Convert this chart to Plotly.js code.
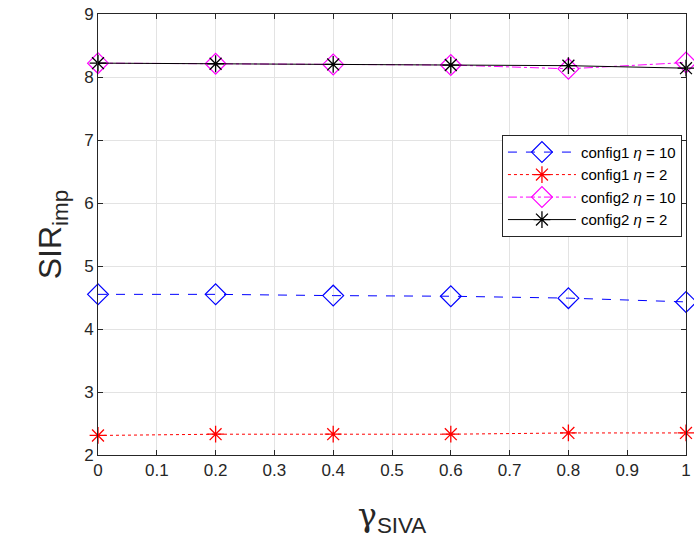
<!DOCTYPE html>
<html><head><meta charset="utf-8">
<script src="https://cdn.plot.ly/plotly-3.0.1.min.js"></script>
<style>html,body{margin:0;padding:0;background:#fff;}#chart{width:694px;height:542px;}</style>
</head><body><div id="chart"></div>
<script>
const gamma = [0, 0.2, 0.4, 0.6, 0.8, 1.0];
const config1Eta10 = [4.55, 4.55, 4.53, 4.52, 4.49, 4.43];
const config1Eta2 = [2.31, 2.33, 2.33, 2.33, 2.35, 2.35];
const config2Eta10 = [8.22, 8.21, 8.20, 8.19, 8.13, 8.23];
const config2Eta2 = [8.22, 8.21, 8.20, 8.19, 8.18, 8.14];
const seriesNames = ['config1 <i>η</i> = 10', 'config1 <i>η</i> = 2', 'config2 <i>η</i> = 10', 'config2 <i>η</i> = 2'];

const traces = [
  {x: gamma, y: config1Eta10, name: seriesNames[0], mode: 'lines+markers', cliponaxis: false,
   line: {color: '#0000ff', width: 1, dash: 'dash'},
   marker: {symbol: 'diamond-open', size: 16, color: '#0000ff', line: {width: 1.2}}},
  {x: gamma, y: config1Eta2, name: seriesNames[1], mode: 'lines+markers', cliponaxis: false,
   line: {color: '#ff0000', width: 1, dash: 'dot'},
   marker: {symbol: 'asterisk-open', size: 14, color: '#ff0000', line: {width: 1.3, color: '#ff0000'}}},
  {x: gamma, y: config2Eta10, name: seriesNames[2], mode: 'lines+markers', cliponaxis: false,
   line: {color: '#ff00ff', width: 1, dash: 'dashdot'},
   marker: {symbol: 'diamond-open', size: 16, color: '#ff00ff', line: {width: 1.2}}},
  {x: gamma, y: config2Eta2, name: seriesNames[3], mode: 'lines+markers', cliponaxis: false,
   line: {color: '#000000', width: 1},
   marker: {symbol: 'asterisk-open', size: 14, color: '#000000', line: {width: 1.3, color: '#000000'}}}
];

const axisCommon = {
  showline: true, linecolor: '#262626', linewidth: 1, mirror: 'ticks',
  ticks: 'inside', ticklen: 5, tickcolor: '#262626',
  showgrid: true, gridcolor: '#e3e3e3', gridwidth: 1, zeroline: false,
  tickfont: {family: 'Liberation Sans, Arial, sans-serif', size: 17, color: '#262626'}
};

const layout = {
  width: 694, height: 542,
  margin: {l: 98, r: 8, t: 14, b: 87},
  paper_bgcolor: '#ffffff', plot_bgcolor: '#ffffff',
  showlegend: true,
  font: {family: 'Liberation Sans, Arial, sans-serif', color: '#262626'},
  xaxis: Object.assign({}, axisCommon, {
    range: [0, 1], dtick: 0.1, tick0: 0,
    title: {text: '<span style="font-family:DejaVu Serif">γ</span><sub>SIVA</sub>', font: {size: 32, color: '#262626'}, standoff: 24}
  }),
  yaxis: Object.assign({}, axisCommon, {
    range: [2, 9], dtick: 1,
    title: {text: 'SIR<sub>imp</sub>', font: {size: 32, color: '#262626'}, standoff: 12}
  }),
  legend: {
    x: 0.687, y: 0.726, xanchor: 'left', yanchor: 'top',
    bgcolor: '#ffffff', bordercolor: '#262626', borderwidth: 1,
    font: {size: 15, color: '#000000'},
    tracegroupgap: 0, itemwidth: 68
  }
};

Plotly.newPlot('chart', traces, layout, {displayModeBar: false, staticPlot: true});
</script>
</body></html>
